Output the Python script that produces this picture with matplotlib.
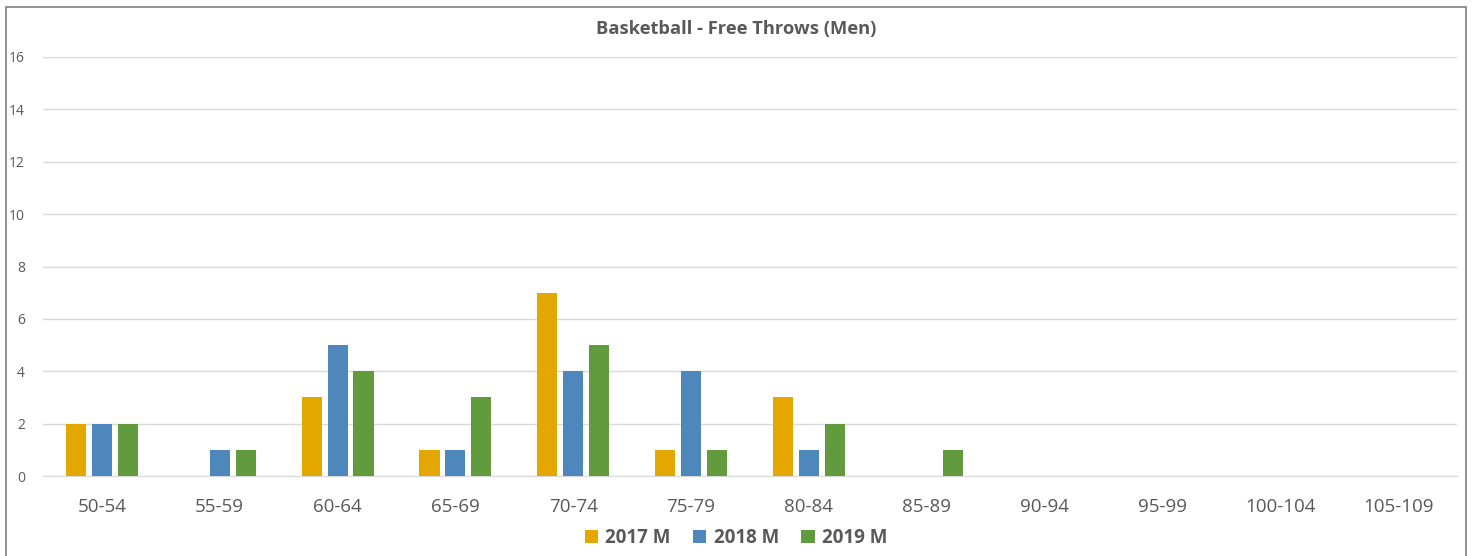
import matplotlib.pyplot as plt
import numpy as np
from matplotlib.patches import Rectangle

categories = ["50-54", "55-59", "60-64", "65-69", "70-74", "75-79",
              "80-84", "85-89", "90-94", "95-99", "100-104", "105-109"]
m2017 = [2, 0, 3, 1, 7, 1, 3, 0, 0, 0, 0, 0]
m2018 = [2, 1, 5, 1, 4, 4, 1, 0, 0, 0, 0, 0]
m2019 = [2, 1, 4, 3, 5, 1, 2, 1, 0, 0, 0, 0]
series = [("2017 M", m2017, "#E3A700"), ("2018 M", m2018, "#4E87BC"), ("2019 M", m2019, "#629B3E")]

plt.rcParams['font.family'] = ['Open Sans', 'DejaVu Sans']
grey = "#595959"

fig = plt.figure(figsize=(14.72, 5.56), dpi=100)
ax = fig.add_axes([43/1472, 1-476/556, (1457-43)/1472, (476-57)/556])

x = np.arange(len(categories))
w = 0.17
step = 0.22
for i, (name, vals, col) in enumerate(series):
    ax.bar(x + (i-1)*step, vals, width=w, color=col, label=name, zorder=3)

ax.set_xlim(-0.5, len(categories)-0.5)
ax.set_ylim(0, 16)
ax.set_yticks(range(0, 17, 2))
ax.set_xticks(x)
ax.set_xticklabels(categories, fontsize=13.5, color=grey)
ax.tick_params(axis='y', labelsize=10, colors=grey, length=0, pad=13)
ax.tick_params(axis='x', length=0, pad=16)
ax.grid(axis='y', color="#d9d9d9", linewidth=1, zorder=0)
for s in ["top", "right", "left"]:
    ax.spines[s].set_visible(False)
ax.spines["bottom"].set_color("#d9d9d9")

fig.text(0.5, 1-29/556, "Basketball - Free Throws (Men)", ha='center', va='center',
         fontsize=13.2, fontweight='bold', color=grey)

leg = fig.legend(loc='center', bbox_to_anchor=(0.5, 1-538/556), ncol=3, frameon=False,
                 fontsize=13.5, handlelength=0.7, handleheight=0.7, columnspacing=1.2,
                 handletextpad=0.4)
for t in leg.get_texts():
    t.set_color(grey)
    t.set_fontweight('bold')

fig.patches.append(Rectangle((6/1472, -0.05), (1466-6)/1472, 1.05-7/556,
                             transform=fig.transFigure, fill=False,
                             edgecolor="#808080", linewidth=1.2))

fig.savefig("out.png", dpi=100)
plt.close(fig)
